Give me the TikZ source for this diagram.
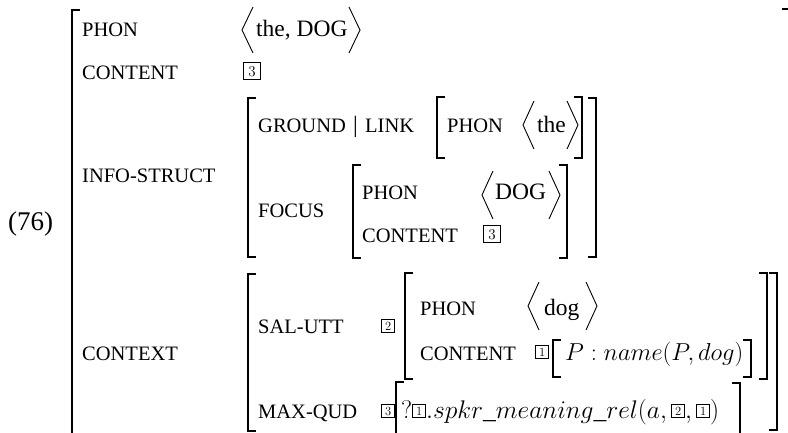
\documentclass[tikz,border=0pt]{standalone}
\usepackage{fix-cm}
\usepackage[no-math]{fontspec}
\setmainfont{Liberation Serif}
% tag boxes: small (inside CONTEXT) and big
\newcommand\tsm[1]{\raisebox{0.6pt}{\fboxsep=0pt\fboxrule=0.7pt\fbox{\makebox[12.5pt]{\rule{0pt}{12.5pt}\raisebox{2.3pt}{\fontsize{12.5}{12.5}\selectfont$#1$}}}}}
\newcommand\tbg[1]{\raisebox{0.8pt}{\fboxsep=0pt\fboxrule=0.8pt\fbox{\makebox[16pt]{\rule{0pt}{16pt}\raisebox{3.1pt}{\fontsize{15}{15}\selectfont$#1$}}}}}
% brackets and angle brackets
\newcommand\LBr[3]{\draw[brk] (#1+8,#2) -- (#1,#2) -- (#1,#3) -- (#1+8,#3);}
\newcommand\RBr[3]{\draw[brk] (#1-8,#2) -- (#1,#2) -- (#1,#3) -- (#1-8,#3);}
\newcommand\LAng[3]{\draw[ang] (#1+11,#2-#3) -- (#1,#2) -- (#1+11,#2+#3);}
\newcommand\RAng[3]{\draw[ang] (#1-11,#2-#3) -- (#1,#2) -- (#1-11,#2+#3);}
\begin{document}
\begin{tikzpicture}[x=1pt,y=-1pt,
  lab/.style={anchor=base west, inner sep=0pt, font=\fontsize{20.5}{24}\selectfont},
  val/.style={anchor=base west, inner sep=0pt, font=\fontsize{23.5}{28}\selectfont},
  mth/.style={anchor=base west, inner sep=0pt, font=\fontsize{24.5}{28}\selectfont},
  mthw/.style={anchor=base west, inner sep=0pt, font=\fontsize{25.5}{28}\selectfont},
  num/.style={anchor=base west, inner sep=0pt, font=\fontsize{27}{30}\selectfont},
  brk/.style={line width=1.7pt, line join=miter},
  ang/.style={line width=0.9pt, line join=miter}]
\useasboundingbox (0,0) rectangle (788,433);

% outer brackets
\LBr{72}{10}{445}
\RBr{790}{9}{445}
\node[num] (ex) at (8,231) {(76)};

% PHON / CONTENT
\node[lab] (phon) at (82,37) {PHON};
\LAng{242}{30}{23}
\node[val] (phonv) at (256,37) {the, DOG};
\RAng{360}{30}{23}
\node[lab] (cont) at (82,80) {CONTENT};
\node[val] (contv) at (243,80) {\tbg{3}};

% INFO-STRUCT
\node[lab] (info) at (82,183) {INFO-STRUCT};
\LBr{248}{98}{257}
\RBr{596}{98}{257}
\node[lab] (ground) at (258,133) {GROUND};
\node[val] (bar) at (353,133) {|};
\node[lab] (link) at (365,133) {LINK};
\LBr{437}{97}{158}
\RBr{582}{97}{158}
\node[lab] (lphon) at (447,133) {PHON};
\LAng{523}{125}{24}
\node[val] (lphonv) at (537,133) {the};
\RAng{578}{125}{24}

\node[lab] (focus) at (258,218) {FOCUS};
\LBr{353}{165}{258}
\RBr{567}{165}{258}
\node[lab] (fphon) at (362,200) {PHON};
\LAng{482}{195}{24}
\node[val] (fphonv) at (495,200) {DOG};
\RAng{560}{195}{24}
\node[lab] (fcont) at (362,243) {CONTENT};
\node[val] (fcontv) at (483,243) {\tbg{3}};

% CONTEXT
\node[lab] (ctx) at (82,360) {CONTEXT};
\LBr{248}{274}{431}
\RBr{777}{273}{430}
\node[lab] (sal) at (258,333) {SAL-UTT};
\node[val] (salt) at (381,333) {\tsm{2}};
\LBr{405}{273}{379}
\RBr{767}{273}{379}
\node[lab] (sphon) at (420,315) {PHON};
\LAng{528}{306}{24}
\node[val] (sphonv) at (544,315) {dog};
\RAng{597}{306}{24}
\node[lab] (scont) at (420,360) {CONTENT};
\node[val] (scontt) at (535,359) {\tsm{1}};
\LBr{553}{340}{377}
\RBr{751}{340}{377}
\node[mth] (scontv) at (565,360) {$P : name(P, dog)$};

\node[lab] (mq) at (258,418) {MAX-QUD};
\node[val] (mqt) at (381,418) {\tsm{3}};
\LBr{396}{382}{445}
\RBr{740}{383}{445}
\node[mthw] (mqv) at (401,418) {$?\tsm{1}.spkr\_meaning\_rel(a, \tsm{2}, \tsm{1})$};
\end{tikzpicture}
\end{document}
